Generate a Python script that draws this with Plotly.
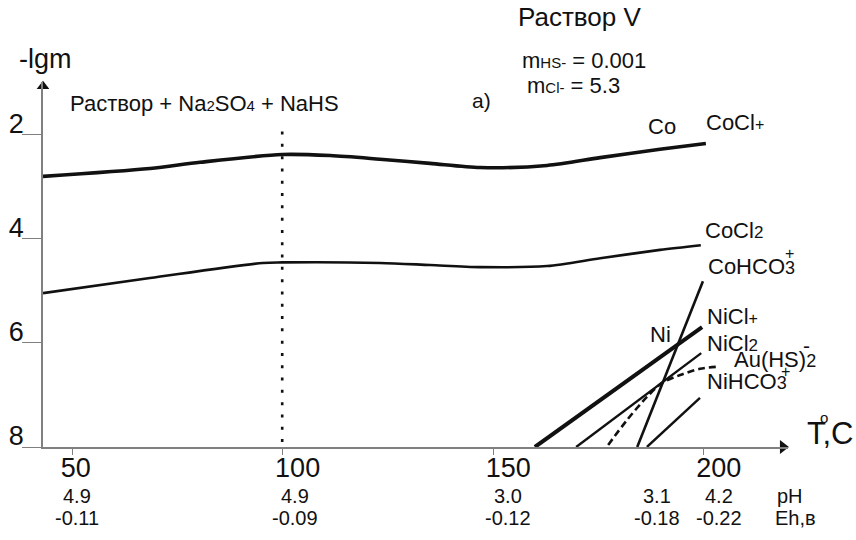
import plotly.graph_objects as go

FONT = "Liberation Sans, Arial, sans-serif"
INK = "#111111"
AXIS = "#808080"

# ---- data ----
T_cocl = [43.1, 68.5, 80.4, 99.9, 111.3, 123.1, 135.0, 146.9, 162.8, 175.4, 189.6, 200.5]
v_cocl = [2.81, 2.66, 2.54, 2.39, 2.41, 2.48, 2.56, 2.64, 2.60, 2.45, 2.29, 2.18]

T_cocl2 = [43.1, 68.5, 95.3, 99.9, 123.1, 135.0, 146.9, 162.8, 175.4, 189.6, 199.3]
v_cocl2 = [5.05, 4.76, 4.47, 4.46, 4.47, 4.51, 4.55, 4.53, 4.38, 4.22, 4.13]

T_nicl = [159.9, 199.6]
v_nicl = [8.0, 5.70]

T_cohco3 = [184.2, 199.8]
v_cohco3 = [8.0, 4.82]

T_nicl2 = [169.7, 199.4]
v_nicl2 = [8.0, 6.20]

T_auhs = [177.3, 181.8, 186.5, 190.1, 194.4, 199.1, 203.4]
v_auhs = [7.96, 7.48, 7.04, 6.77, 6.62, 6.50, 6.46]

T_nihco3 = [186.5, 199.1]
v_nihco3 = [8.0, 7.06]

T_dotted = [99.9, 99.9]
v_dotted = [1.95, 8.0]

x_ticks = [50, 100, 150, 200]
x_ticktext = ["50\u00a0\u00a0\u00a0", "100", "150", "200"]
y_ticks = [2, 4, 6, 8]

row_T = [51.2, 103.0, 153.5, 188.9, 203.6]
ph_labels = ["4.9", "4.9", "3.0", "3.1", "4.2"]
eh_labels = ["-0.11", "-0.09", "-0.12", "-0.18", "-0.22"]

X_RANGE = [43.1, 220.0]
Y_RANGE = [8.0, 1.0]

fig = go.Figure()

def line(x, y, w, dash="solid", shape="linear"):
    fig.add_trace(go.Scatter(x=x, y=y, mode="lines",
                             line=dict(color=INK, width=w, dash=dash, shape=shape, smoothing=0.8),
                             hoverinfo="skip", showlegend=False, cliponaxis=False))

line(T_cocl, v_cocl, 3.6, shape="spline")
line(T_cocl2, v_cocl2, 2.6, shape="spline")
line(T_nicl, v_nicl, 4.0)
line(T_cohco3, v_cohco3, 2.6)
line(T_nicl2, v_nicl2, 2.4)
line(T_auhs, v_auhs, 2.6, dash="7px,4px", shape="spline")
line(T_nihco3, v_nihco3, 2.4)
line(T_dotted, v_dotted, 2.6, dash="3px,9.3px")

# axis arrowheads
fig.add_trace(go.Scatter(x=[43.1], y=[1.08], mode="markers",
                         marker=dict(symbol="triangle-up", size=11, color=INK),
                         hoverinfo="skip", showlegend=False, cliponaxis=False))
fig.add_trace(go.Scatter(x=[218.8], y=[8.0], mode="markers",
                         marker=dict(symbol="triangle-right", size=12, color=INK),
                         hoverinfo="skip", showlegend=False, cliponaxis=False))

def px(t):
    return (t - X_RANGE[0]) / (X_RANGE[1] - X_RANGE[0])

def py(v):
    return (Y_RANGE[0] - v) / (Y_RANGE[0] - Y_RANGE[1])

ann = []
def text(x, y, s, size=21, xanchor="left"):
    ann.append(dict(x=px(x), y=py(y), xref="paper", yref="paper", text=s, showarrow=False,
                    xanchor=xanchor, yanchor="middle",
                    font=dict(family=FONT, size=size, color=INK)))

def sm(s, size=14):
    return f'<span style="font-size:{size}px">{s}</span>'

text(36.9, 0.55, "-lgm", 27)
text(49.0, 1.41, "Раствор + Na" + sm("2", 15) + "SO" + sm("4", 15) + " + NaHS", 22)
text(155.5, -0.24, "Раствор V", 26)
text(156.4, 0.59, "m" + sm("HS-", 15) + " = 0.001", 22)
text(157.6, 1.07, "m" + sm("Cl-", 15) + " = 5.3", 22)
text(144.5, 1.35, "а)", 21)
text(186.3, 1.85, "Co", 22)
text(200.1, 1.78, "CoCl" + sm("+", 16), 22)
text(199.8, 3.84, "CoCl" + sm("2", 17), 22)
text(200.5, 4.53, "CoHCO" + sm("3", 18), 22)
text(220.3, 4.28, "+", 16, "center")
text(200.4, 5.49, "NiCl" + sm("+", 16), 22)
text(186.8, 5.85, "Ni", 22)
text(200.3, 6.01, "NiCl" + sm("2", 17), 22)
text(224.5, 6.05, "-", 21, "center")
text(206.7, 6.33, "Au(HS)" + sm("2", 18), 22)
text(200.3, 6.74, "NiHCO" + sm("3", 18), 22)
text(219.3, 6.56, "+", 16, "center")
text(224.1, 7.75, "T,C", 31)
text(228.6, 7.44, "o", 15, "center")

for t, p, e in zip(row_T, ph_labels, eh_labels):
    text(t, 8.94, p, 20, "center")
    text(t, 9.36, e, 20, "center")
text(216.9, 8.94, "pH", 20)
text(216.4, 9.36, "Eh,в", 20)

fig.update_layout(
    width=856, height=540,
    margin=dict(l=43, r=68, t=82, b=93),
    paper_bgcolor="white", plot_bgcolor="white",
    annotations=ann,
    font=dict(family=FONT, color=INK),
    xaxis=dict(range=X_RANGE, showgrid=False, zeroline=False, automargin=False,
               showline=True, linecolor=AXIS, linewidth=1.5,
               ticks="outside", ticklen=6, tickcolor=AXIS, tickwidth=1.2,
               tickvals=x_ticks, ticktext=x_ticktext,
               tickfont=dict(family=FONT, size=27, color=INK),
               ticklabelshift=15, ticklabelstandoff=-10),
    yaxis=dict(range=Y_RANGE, showgrid=False, zeroline=False, automargin=False,
               showline=True, linecolor=AXIS, linewidth=1.5,
               ticks="outside", ticklen=19, tickcolor=AXIS, tickwidth=1.2,
               tickvals=y_ticks, ticktext=[str(v) for v in y_ticks],
               tickfont=dict(family=FONT, size=27, color=INK),
               ticklabelshift=11, ticklabelstandoff=-7),
)

fig.write_html("out.html", config={"displayModeBar": False},
               post_script="document.body.style.margin='0px';")
